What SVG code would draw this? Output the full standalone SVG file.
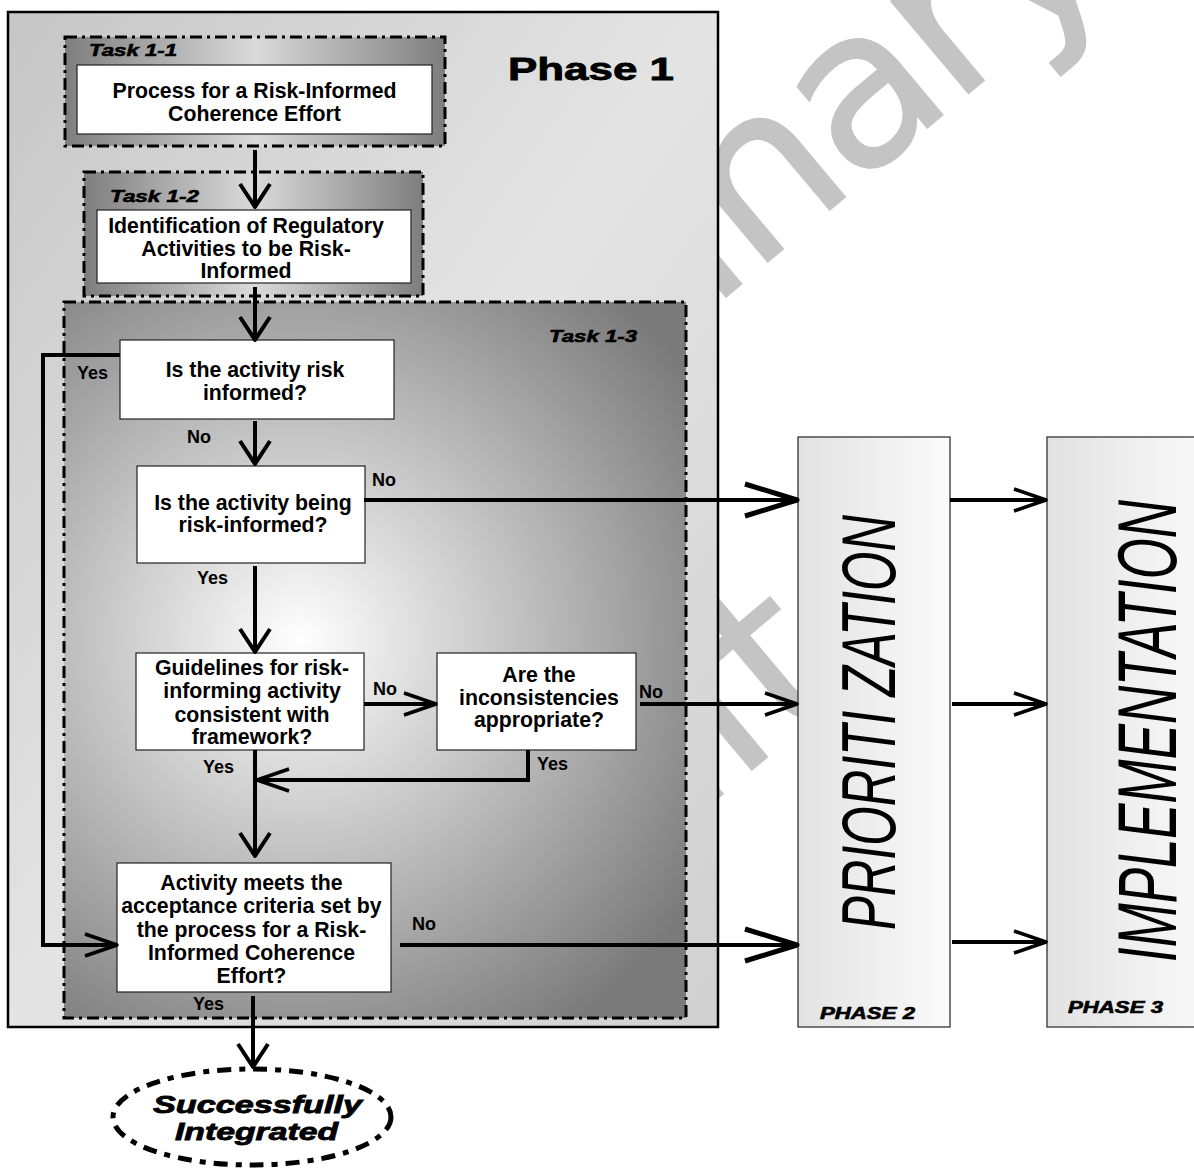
<svg xmlns="http://www.w3.org/2000/svg" width="1194" height="1169" viewBox="0 0 1194 1169">
<defs>
<style>
.wm{font-family:"DejaVu Sans",sans-serif;font-size:220px;fill:#c4c4c4;stroke:#c4c4c4;stroke-width:2;letter-spacing:-6px}
.box{fill:#fff;stroke:#222;stroke-width:1.2}
.tx{font-family:"Liberation Sans",Arial,sans-serif;font-weight:bold;font-size:21.3px;text-anchor:middle;fill:#000}
.lb{font-family:"Liberation Sans",Arial,sans-serif;font-weight:bold;font-size:18px;fill:#000}
.task{font-family:"Liberation Sans",Arial,sans-serif;font-weight:bold;font-style:italic;font-size:16px;fill:#000;stroke:#000;stroke-width:0.6}
.dd{stroke:#000;stroke-width:3;stroke-dasharray:12 5 3 5}
.ln{fill:none;stroke:#000;stroke-width:4}
.vert{font-family:"Liberation Sans",Arial,sans-serif;font-style:italic;fill:#000}
.ph{stroke:#333;stroke-width:1.3;fill:url(#gPh)}
.phl{font-family:"Liberation Sans",Arial,sans-serif;font-weight:bold;font-style:italic;font-size:16px;fill:#000;stroke:#000;stroke-width:0.6}
</style>
<linearGradient id="gP1" x1="0" y1="0" x2="1" y2="1">
<stop offset="0" stop-color="#c6c6c6"/>
<stop offset="0.5" stop-color="#e4e4e4"/>
<stop offset="1" stop-color="#d0d0d0"/>
</linearGradient>
<linearGradient id="gT" x1="0" y1="0" x2="1" y2="0">
<stop offset="0" stop-color="#7e7e7e"/>
<stop offset="0.5" stop-color="#dadada"/>
<stop offset="1" stop-color="#7e7e7e"/>
</linearGradient>
<radialGradient id="gT3" gradientUnits="userSpaceOnUse" cx="300" cy="640" r="470">
<stop offset="0" stop-color="#ffffff"/>
<stop offset="1" stop-color="#7a7a7a"/>
</radialGradient>
<linearGradient id="gPh" x1="0" y1="0" x2="1" y2="0">
<stop offset="0" stop-color="#e2e2e2"/>
<stop offset="1" stop-color="#fbfbfb"/>
</linearGradient>
<marker id="aV" markerUnits="userSpaceOnUse" markerWidth="40" markerHeight="40" refX="24" refY="16" orient="auto" overflow="visible">
<path d="M1,1 L24,16 L1,31" fill="none" stroke="#000" stroke-width="4" stroke-linejoin="round"/>
</marker>
<marker id="aBig" markerUnits="userSpaceOnUse" markerWidth="60" markerHeight="40" refX="52" refY="16" orient="auto" overflow="visible">
<path d="M0,0 L52,16 L0,32" fill="none" stroke="#000" stroke-width="5" stroke-linejoin="round"/>
</marker>
<marker id="aMed" markerUnits="userSpaceOnUse" markerWidth="40" markerHeight="30" refX="32" refY="11" orient="auto" overflow="visible">
<path d="M0,0 L32,11 L0,22" fill="none" stroke="#000" stroke-width="3.5" stroke-linejoin="round"/>
</marker>
</defs>

<g id="watermark">
<text class="wm" transform="translate(212,728) rotate(-40)">Preliminary</text>
<text class="wm" transform="translate(445,1027) rotate(-40)">Draft</text>
</g>

<g id="phase1">
<rect x="8" y="12" width="710" height="1015" fill="url(#gP1)" stroke="#000" stroke-width="2.5"/>
<text x="508" y="80" font-family="Liberation Sans, Arial, sans-serif" font-weight="bold" font-size="32" textLength="166" lengthAdjust="spacingAndGlyphs" stroke="#000" stroke-width="0.8">Phase 1</text>
</g>

<g id="task1-1">
<rect x="65" y="37" width="380" height="109" fill="url(#gT)" class="dd"/>
<text class="task" x="89" y="56" textLength="88" lengthAdjust="spacingAndGlyphs">Task 1-1</text>
<rect class="box" x="77" y="65" width="355" height="69"/>
<text class="tx" x="254.5" y="98">Process for a Risk-Informed</text>
<text class="tx" x="254.5" y="121">Coherence Effort</text>
</g>

<g id="task1-2">
<rect x="84" y="172" width="339" height="124" fill="url(#gT)" class="dd"/>
<text class="task" x="110" y="202" textLength="89" lengthAdjust="spacingAndGlyphs">Task 1-2</text>
<rect class="box" x="97" y="210" width="314" height="73"/>
<text class="tx" x="246" y="233">Identification of Regulatory</text>
<text class="tx" x="246" y="256">Activities to be Risk-</text>
<text class="tx" x="246" y="278">Informed</text>
</g>

<g id="task1-3">
<rect x="64" y="302" width="622" height="716" fill="url(#gT3)" class="dd"/>
<text class="task" x="549" y="342" textLength="88" lengthAdjust="spacingAndGlyphs">Task 1-3</text>
</g>

<g id="q1">
<rect class="box" x="120" y="340" width="274" height="79"/>
<text class="tx" x="255" y="377">Is the activity risk</text>
<text class="tx" x="255" y="400">informed?</text>
</g>

<g id="q2">
<rect class="box" x="137" y="466" width="228" height="97"/>
<text class="tx" x="253" y="510">Is the activity being</text>
<text class="tx" x="253" y="532">risk-informed?</text>
</g>

<g id="q3">
<rect class="box" x="136" y="653" width="228" height="97"/>
<text class="tx" x="252" y="675">Guidelines for risk-</text>
<text class="tx" x="252" y="698">informing activity</text>
<text class="tx" x="252" y="722">consistent with</text>
<text class="tx" x="252" y="744">framework?</text>
</g>

<g id="q4">
<rect class="box" x="437" y="653" width="199" height="97"/>
<text class="tx" x="539" y="682">Are the</text>
<text class="tx" x="539" y="705">inconsistencies</text>
<text class="tx" x="539" y="727">appropriate?</text>
</g>

<g id="q5">
<rect class="box" x="117" y="863" width="274" height="129"/>
<text class="tx" x="251.5" y="890">Activity meets the</text>
<text class="tx" x="251.5" y="913">acceptance criteria set by</text>
<text class="tx" x="251.5" y="937">the process for a Risk-</text>
<text class="tx" x="251.5" y="960">Informed Coherence</text>
<text class="tx" x="251.5" y="983">Effort?</text>
</g>

<g id="end">
<ellipse cx="252" cy="1117" rx="139" ry="48" fill="#fff" stroke="#000" stroke-width="5" stroke-dasharray="14 8 6 8"/>
<text x="257.5" y="1113" text-anchor="middle" font-family="Liberation Sans, Arial, sans-serif" font-weight="bold" font-style="italic" font-size="23" textLength="209" lengthAdjust="spacingAndGlyphs" stroke="#000" stroke-width="0.8">Successfully</text>
<text x="256.5" y="1140" text-anchor="middle" font-family="Liberation Sans, Arial, sans-serif" font-weight="bold" font-style="italic" font-size="23" textLength="163" lengthAdjust="spacingAndGlyphs" stroke="#000" stroke-width="0.8">Integrated</text>
</g>

<g id="phase2">
<rect class="ph" x="798" y="437" width="152" height="590"/>
<text class="vert" transform="translate(895,930) rotate(-90)" font-size="76" textLength="415" lengthAdjust="spacingAndGlyphs">PRIORITI  ZATION</text>
<text class="phl" x="820" y="1019" textLength="95" lengthAdjust="spacingAndGlyphs">PHASE 2</text>
</g>

<g id="phase3">
<rect class="ph" x="1047" y="437" width="170" height="590"/>
<text class="vert" transform="translate(1176,962) rotate(-90)" font-size="84" textLength="462" lengthAdjust="spacingAndGlyphs">IMPLEMENTATION</text>
<text class="phl" x="1068" y="1013" textLength="95" lengthAdjust="spacingAndGlyphs">PHASE 3</text>
</g>

<g id="connectors">
<path class="ln" d="M255,150 V207" marker-end="url(#aV)"/>
<path class="ln" d="M255,287 V340" marker-end="url(#aV)"/>
<path class="ln" d="M120,355 H43 V945 H117" marker-end="url(#aMed)"/>
<path class="ln" d="M255,421 V464" marker-end="url(#aV)"/>
<path class="ln" d="M364,500 H797" stroke-width="5" marker-end="url(#aBig)"/>
<path class="ln" d="M255,566 V652" marker-end="url(#aV)"/>
<path class="ln" d="M364,704 H436" marker-end="url(#aMed)"/>
<path class="ln" d="M255,750 V856" marker-end="url(#aV)"/>
<path class="ln" d="M640,704 H797" stroke-width="3" marker-end="url(#aMed)"/>
<path class="ln" d="M528,750 V780 H257" marker-end="url(#aMed)"/>
<path class="ln" d="M400,945 H797" marker-end="url(#aBig)"/>
<path class="ln" d="M253,996 V1067" marker-end="url(#aV)"/>
<path class="ln" d="M950,500 H1046" marker-end="url(#aMed)"/>
<path class="ln" d="M952,704 H1046" marker-end="url(#aMed)"/>
<path class="ln" d="M952,942 H1046" stroke-width="5" marker-end="url(#aMed)"/>
<text class="lb" x="77" y="379">Yes</text>
<text class="lb" x="187" y="443">No</text>
<text class="lb" x="372" y="486">No</text>
<text class="lb" x="197" y="584">Yes</text>
<text class="lb" x="373" y="695">No</text>
<text class="lb" x="639" y="698">No</text>
<text class="lb" x="537" y="770">Yes</text>
<text class="lb" x="203" y="773">Yes</text>
<text class="lb" x="412" y="930">No</text>
<text class="lb" x="193" y="1010">Yes</text>
</g>
</svg>
